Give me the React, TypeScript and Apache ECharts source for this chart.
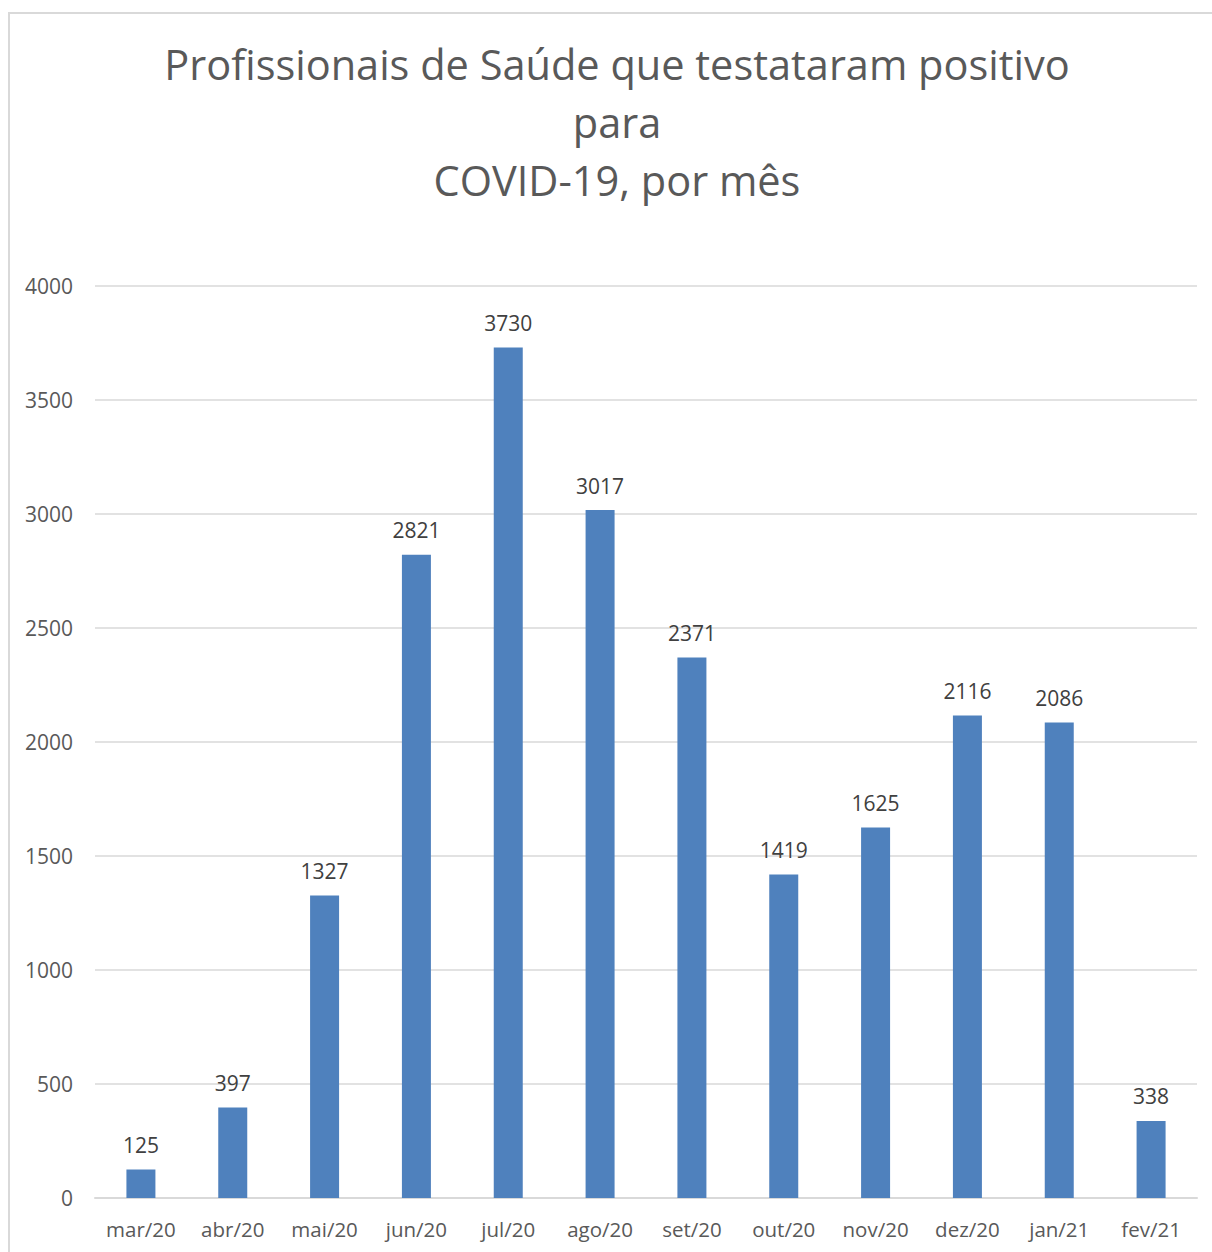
import React, { useEffect, useRef } from "react";
import * as echarts from "echarts";

const categories = ["mar/20", "abr/20", "mai/20", "jun/20", "jul/20", "ago/20", "set/20", "out/20", "nov/20", "dez/20", "jan/21", "fev/21"];
const values = [125, 397, 1327, 2821, 3730, 3017, 2371, 1419, 1625, 2116, 2086, 338];
const titleLines = ["Profissionais de Saúde que testataram positivo", "para", "COVID-19, por mês"];

export default function App() {
  const ref = useRef<HTMLDivElement>(null);
  useEffect(() => {
    if (!ref.current) return;
    const chart = echarts.init(ref.current, null, { renderer: "svg" });
    const font = "'Open Sans', 'Noto Sans', sans-serif";
    chart.setOption({
      animation: false,
      title: {
        text: titleLines.join("\n"),
        left: 602,
        top: 16,
        textAlign: "center",
        textStyle: { fontFamily: font, fontSize: 41.5, fontWeight: "normal", color: "#595959", lineHeight: 58 },
      },
      grid: { left: 85, right: 15, top: 272, bottom: 54, containLabel: false },
      xAxis: {
        type: "category",
        data: categories,
        axisLine: { lineStyle: { color: "#d9d9d9", width: 2 } },
        axisTick: { show: false },
        axisLabel: { interval: 0, fontFamily: font, fontSize: 20.5, color: "#595959", margin: 20 },
      },
      yAxis: {
        type: "value",
        min: 0,
        max: 4000,
        interval: 500,
        axisLine: { show: false },
        axisTick: { show: false },
        splitLine: { lineStyle: { color: "#d9d9d9", width: 1.5 } },
        axisLabel: { fontFamily: font, fontSize: 21, color: "#595959", margin: 22, formatter: (v: number) => String(v) },
      },
      series: [
        {
          type: "bar",
          data: values,
          barWidth: 29,
          itemStyle: { color: "#4f81bd" },
          label: { show: true, position: "top", distance: 14, fontFamily: font, fontSize: 21, color: "#404040" },
        },
      ],
    });
    return () => chart.dispose();
  }, []);
  return (
    <div
      style={{
        position: "absolute",
        left: 8,
        top: 12,
        width: 1204,
        height: 1240,
        boxSizing: "border-box",
        borderLeft: "2px solid #d9d9d9",
        borderTop: "2px solid #d9d9d9",
        background: "#fff",
      }}
    >
      <div ref={ref} style={{ width: 1202, height: 1238 }} />
    </div>
  );
}
